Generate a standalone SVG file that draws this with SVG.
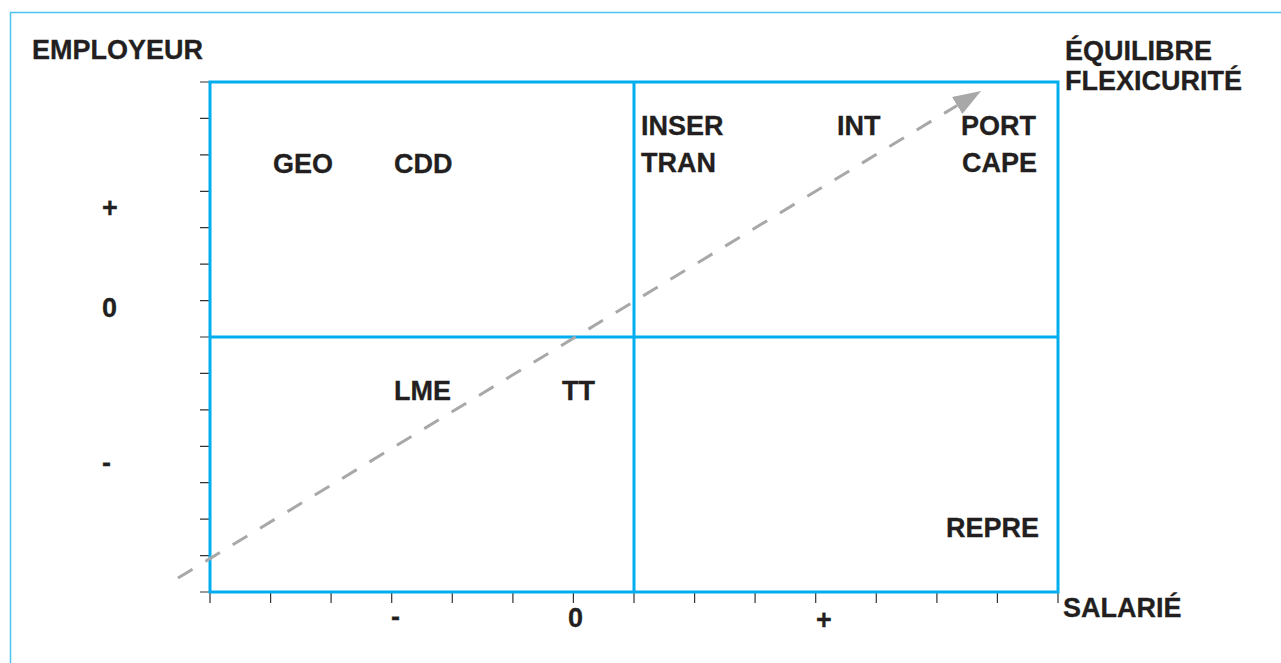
<svg xmlns="http://www.w3.org/2000/svg" width="1281" height="663" viewBox="0 0 1281 663">
<defs>
<style>
.lbl{font-family:"Liberation Sans",Arial,sans-serif;font-weight:bold;font-size:27px;fill:#231f20;stroke:#231f20;stroke-width:0.3}
.tick{stroke:#333;stroke-width:1.2}
.grid{stroke:#00aeef;stroke-width:3;fill:none}
.frame{stroke:#4cc3ef;stroke-width:1.5;fill:none}
.conn{stroke:#a8a8a8;stroke-width:3;fill:none;stroke-dasharray:17 15}
</style>
<marker id="arr" markerUnits="userSpaceOnUse" markerWidth="30" markerHeight="22" refX="0" refY="10" orient="auto">
<polygon points="0,0 28,10 0,20" fill="#a8a8a8"/>
</marker>
</defs>
<rect width="1281" height="663" fill="#ffffff"/>
<rect class="frame" x="10.5" y="12.5" width="1300" height="700"/>
<g id="ticks">
<path class="tick" d="M200 82H210M200 118.4H210M200 154.9H210M200 191.3H210M200 227.7H210M200 264.1H210M200 300.6H210M200 337H210M200 373.4H210M200 409.9H210M200 446.3H210M200 482.7H210M200 519.1H210M200 555.6H210M200 592H210"/>
<path class="tick" d="M210 592V603M270.6 592V603M331.1 592V603M391.7 592V603M452.3 592V603M512.9 592V603M573.4 592V603M634 592V603M694.6 592V603M755.1 592V603M815.7 592V603M876.3 592V603M936.9 592V603M997.4 592V603M1058 592V603"/>
</g>
<g id="grid">
<rect class="grid" x="210" y="82" width="848" height="510"/>
<line class="grid" x1="634" y1="82" x2="634" y2="592"/>
<line class="grid" x1="210" y1="337" x2="1058" y2="337"/>
</g>
<g id="connectors">
<line class="conn" x1="178" y1="578" x2="957.1" y2="105.5" marker-end="url(#arr)"/>
</g>
<g id="axis-employeur"><text class="lbl" x="32" y="59">EMPLOYEUR</text></g>
<g id="axis-equilibre"><text class="lbl" x="1065" y="60">ÉQUILIBRE</text><text class="lbl" x="1065" y="90">FLEXICURITÉ</text></g>
<g id="axis-salarie"><text class="lbl" x="1063" y="617">SALARIÉ</text></g>
<g id="y-plus"><text class="lbl" x="102" y="217">+</text></g>
<g id="y-zero"><text class="lbl" x="102" y="317">0</text></g>
<g id="y-minus"><text class="lbl" x="102" y="472">-</text></g>
<g id="x-minus"><text class="lbl" x="391" y="626">-</text></g>
<g id="x-zero"><text class="lbl" x="568" y="627">0</text></g>
<g id="x-plus"><text class="lbl" x="816" y="629">+</text></g>
<g id="geo"><text class="lbl" x="273" y="173">GEO</text></g>
<g id="cdd"><text class="lbl" x="394" y="173">CDD</text></g>
<g id="inser"><text class="lbl" x="641" y="135">INSER</text></g>
<g id="tran"><text class="lbl" x="641" y="172">TRAN</text></g>
<g id="int"><text class="lbl" x="837" y="135">INT</text></g>
<g id="port"><text class="lbl" x="961" y="135">PORT</text></g>
<g id="cape"><text class="lbl" x="962" y="172">CAPE</text></g>
<g id="lme"><text class="lbl" x="394" y="400">LME</text></g>
<g id="tt"><text class="lbl" x="562" y="400">TT</text></g>
<g id="repre"><text class="lbl" x="946" y="537">REPRE</text></g>
</svg>
